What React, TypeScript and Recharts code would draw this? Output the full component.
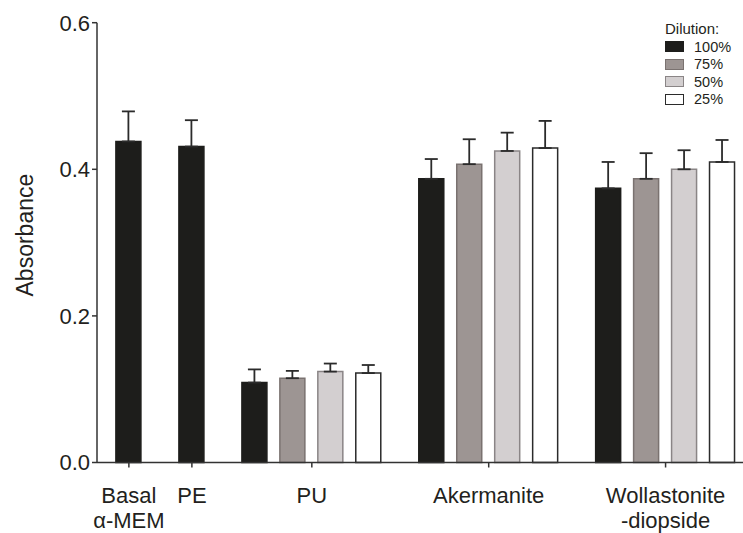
import React from 'react'
import { BarChart, Bar, XAxis, YAxis, Cell, ErrorBar, Legend, Label } from 'recharts'

const groupLabelLines = [['Basal', 'α-MEM'], ['PE'], ['PU'], ['Akermanite'], ['Wollastonite', '-diopside']]
const dilutions = ['100%', '75%', '50%', '25%']

// mean absorbance per group, one value per dilution tested
const means = [
  [0.438],
  [0.431],
  [0.109, 0.115, 0.124, 0.122],
  [0.387, 0.407, 0.425, 0.429],
  [0.374, 0.387, 0.4, 0.41],
]
// standard deviation (drawn upward only)
const sds = [
  [0.041],
  [0.036],
  [0.018, 0.01, 0.011, 0.011],
  [0.027, 0.034, 0.025, 0.037],
  [0.036, 0.035, 0.026, 0.03],
]
const yTicks = [0, 0.2, 0.4, 0.6]

const fills = ['#1d1d1b', '#9d9593', '#d3cfd0', '#ffffff']
const strokes = ['#1d1d1b', '#7a7270', '#8a8586', '#2b2b2b']
const font = '"Liberation Sans", Arial, Helvetica, sans-serif'
const ink = '#231f20'

// bars sit one unit apart inside a group, with extra space between groups
const GROUP_GAP = 0.66
const rows: { x: number; value: number; err: number[]; dilution: number }[] = []
const groupTicks: number[] = []
let pos = 0
means.forEach((vals, g) => {
  if (g > 0) pos += GROUP_GAP
  const start = pos
  vals.forEach((v, i) => {
    rows.push({ x: pos, value: v, err: [0, sds[g][i]], dilution: i })
    pos += 1
  })
  groupTicks.push((start + pos - 1) / 2)
})
const xDomain = [-0.84, pos - 1 + 0.54]

const GroupTick = ({ x, y, payload }: any) => {
  const idx = groupTicks.indexOf(payload.value)
  const lines = groupLabelLines[idx] ?? []
  return (
    <text x={x} y={y} textAnchor="middle" fontSize={22} fontFamily={font} fill={ink}>
      {lines.map((line, i) => (
        <tspan key={i} x={x} dy={i === 0 ? 33 : 25.5}>
          {line}
        </tspan>
      ))}
    </text>
  )
}

const DilutionLegend = () => (
  <div style={{ fontFamily: font, color: ink }}>
    <div style={{ fontSize: 15, lineHeight: '18px' }}>Dilution:</div>
    {dilutions.map((d, i) => (
      <div key={d} style={{ display: 'flex', alignItems: 'center', height: 17.5 }}>
        <span
          style={{
            boxSizing: 'border-box',
            width: 19,
            height: 11,
            background: fills[i],
            border: `1.5px solid ${strokes[i]}`,
          }}
        />
        <span style={{ marginLeft: 10, fontSize: 14.5 }}>{d}</span>
      </div>
    ))}
  </div>
)

export default function App() {
  return (
    <div style={{ width: 743, height: 533, background: '#fff' }}>
      <style>{'body{margin:0}'}</style>
      <BarChart
        width={743}
        height={533}
        data={rows}
        margin={{ top: 22.7, right: 0, bottom: 40.5, left: 0 }}
      >
        <XAxis
          dataKey="x"
          type="number"
          domain={xDomain}
          ticks={groupTicks}
          interval={0}
          tick={<GroupTick />}
          tickSize={5}
          height={30}
          stroke="#333"
          strokeWidth={1.5}
          allowDataOverflow
        />
        <YAxis
          domain={[0, 0.6]}
          ticks={yTicks}
          width={97}
          tickSize={5}
          tickMargin={2}
          tickFormatter={(v: number) => v.toFixed(1)}
          tick={{ fontSize: 22, fontFamily: font, fill: ink }}
          stroke="#333"
          strokeWidth={1.5}
        >
          <Label
            content={({ viewBox }: any) => (
              <text
                transform={`translate(${viewBox.x + 33}, ${viewBox.y + viewBox.height / 2 - 7.5}) rotate(-90)`}
                textAnchor="middle"
                fontSize={23}
                fontFamily={font}
                fill={ink}
              >
                Absorbance
              </text>
            )}
          />
        </YAxis>
        <Legend
          layout="horizontal"
          verticalAlign="middle"
          align="center"
          content={<DilutionLegend />}
          wrapperStyle={{ top: 20, left: 665, width: 'auto' }}
        />
        <Bar dataKey="value" barSize={25} strokeWidth={1.5} isAnimationActive={false}>
          {rows.map((r, i) => (
            <Cell key={i} fill={fills[r.dilution]} stroke={strokes[r.dilution]} />
          ))}
          <ErrorBar dataKey="err" width={6.5} stroke="#2b2b2b" strokeWidth={1.8} direction="y" />
        </Bar>
      </BarChart>
    </div>
  )
}
